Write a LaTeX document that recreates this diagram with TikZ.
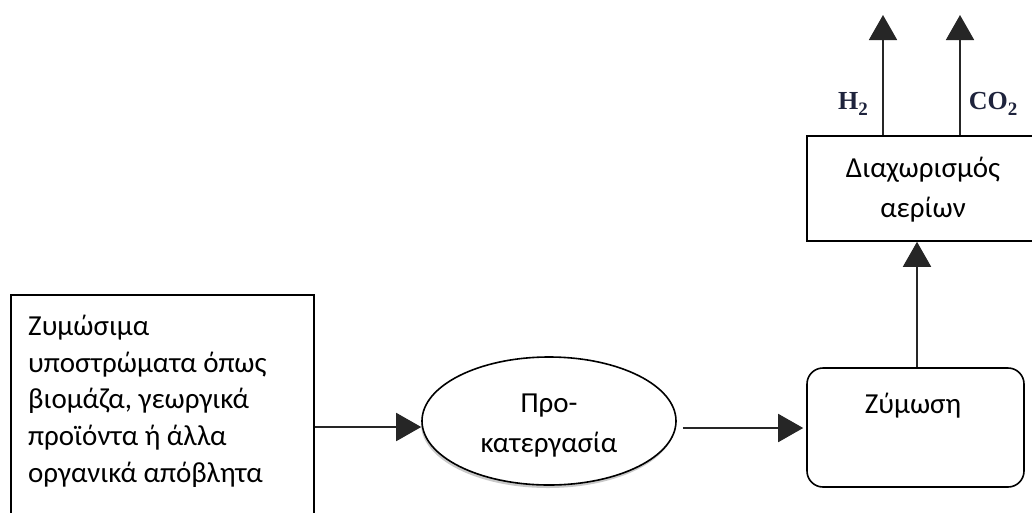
\documentclass[tikz,border=0pt]{standalone}
\usepackage{fontspec}
\setmainfont{Carlito}
\newfontfamily\gasfont{Liberation Serif}
\usetikzlibrary{arrows.meta,shapes.geometric,shadows,calc}

\begin{document}
\begin{tikzpicture}[x=1pt,y=-1pt,
  box/.style={draw=black, line width=1.6pt, inner sep=0pt, fill=white},
  flow/.style={draw=black!85, line width=1.8pt, -{Triangle[length=25pt,width=28pt]}},
  txt/.style={font=\fontsize{29}{36.6}\selectfont, inner sep=0pt},
  txtc/.style={font=\fontsize{29}{40}\selectfont, align=center, inner sep=0pt},
  gas/.style={font=\gasfont\bfseries\fontsize{26}{30}\selectfont,
              text={rgb,255:red,30;green,35;blue,60}, inner sep=0pt}]
\clip (0,0) rectangle (1032,512);
\fill[white] (0,0) rectangle (1032,512);

% raw material (box runs past the lower edge); base anchor = last line
\node[box, minimum width=303, minimum height=240, anchor=north west] (src) at (10,294) {};
\node[txt, align=left, anchor=base west] (srctext) at (28,482)
  {Ζυμώσιμα\\υποστρώματα όπως\\βιομάζα, γεωργικά\\προϊόντα ή άλλα\\οργανικά απόβλητα};

% pre-treatment
\node[ellipse, draw=black, fill=white, line width=1.6pt, minimum width=254, minimum height=128,
      inner sep=0pt, drop shadow={shadow xshift=-1pt, shadow yshift=-3pt, opacity=0.35, fill=black!60}]
  (pre) at (549,421) {};
\node[txtc, anchor=base] (pretext) at (549,452) {Προ-\\κατεργασία};

% fermentation
\node[box, rounded corners=16pt, minimum width=217, minimum height=119] (ferm) at (915.5,427.5) {};
\node[txt, anchor=base] (fermtext) at (913,413) {Ζύμωση};

% gas separation (box runs past the right edge)
\node[box, minimum width=232, minimum height=105] (sep) at (923,188.5) {};
\node[txtc, anchor=base] (septext) at (923,217) {Διαχωρισμός\\αερίων};

% outlet ends
\coordinate (h2top) at (883,15);
\coordinate (co2top) at (960,15);

% flows
\draw[flow] ([yshift=-6pt]src.east |- pre.west) -- ([yshift=-6pt]pre.west);
\draw[flow, shorten <=6pt, shorten >=3pt] ([yshift=-7pt]pre.east) -- ([yshift=-7pt]pre.east -| ferm.west);
\draw[flow] ($(ferm.north)+(1.5,0)$) -- ($(sep.south -| ferm.north)+(1.5,0)$);
\draw[flow] (sep.north -| h2top) -- (h2top);
\draw[flow] (sep.north -| co2top) -- (co2top);

% gas labels
\node[gas, anchor=base] (h2) at (853,109) {H\raisebox{-6pt}{\fontsize{19}{19}\selectfont 2}};
\node[gas, anchor=base] (co2) at (993,109) {CO\raisebox{-6pt}{\fontsize{19}{19}\selectfont 2}};
\end{tikzpicture}
\end{document}
